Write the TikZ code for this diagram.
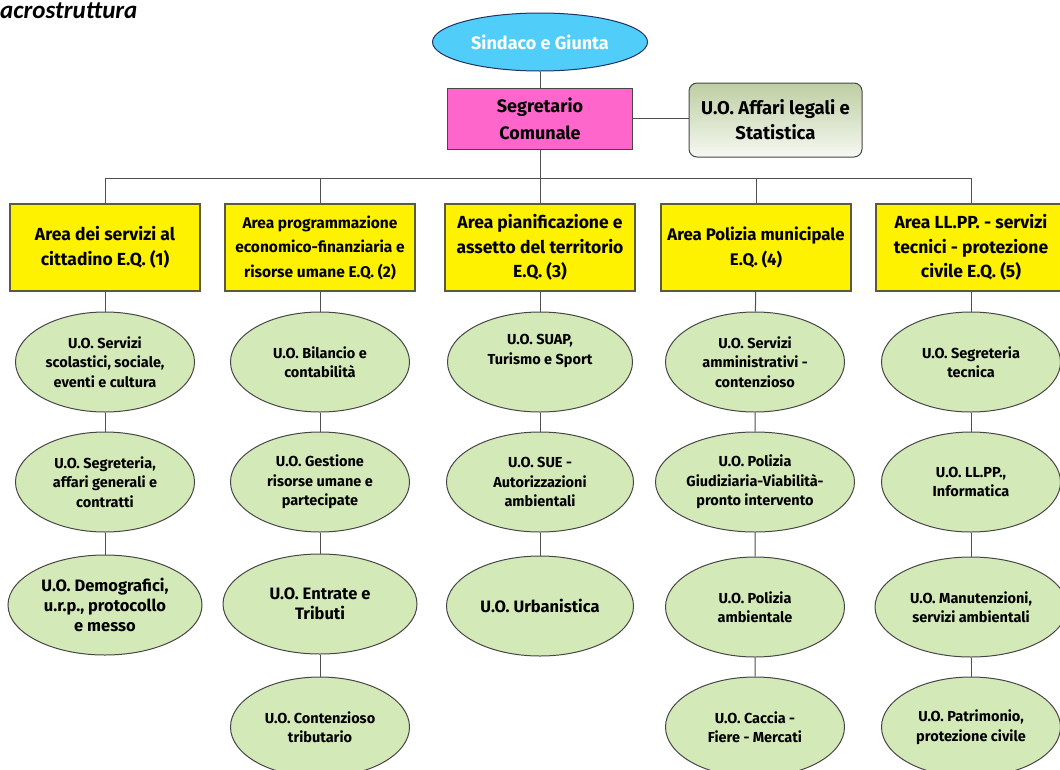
\documentclass[tikz,border=0pt]{standalone}
\usepackage{fontspec}
\setmainfont{Fira Sans}
\newfontfamily\titlefont{Carlito}
\usetikzlibrary{shapes.geometric}
\definecolor{uogreen}{RGB}{212,233,184}
\definecolor{uoborder}{RGB}{70,70,70}
\definecolor{areaborder}{RGB}{90,90,60}
\definecolor{linkgrey}{RGB}{80,80,80}
\definecolor{sindblue}{RGB}{80,205,248}
\definecolor{sindborder}{RGB}{30,50,100}
\definecolor{segrpink}{RGB}{255,102,204}
\definecolor{legtop}{RGB}{190,206,162}
\definecolor{legbot}{RGB}{246,248,242}
\newcommand{\clrarea}{yellow}
\newcommand{\bigfont}{\bfseries\fontsize{16.5}{20}\selectfont}

\begin{document}
\begin{tikzpicture}[x=1pt, y=-1pt,
    area/.style={draw=areaborder, line width=1.2pt, fill=\clrarea, minimum width=190pt, minimum height=87pt, inner sep=0pt, align=center},
    uo/.style={ellipse, draw=uoborder, line width=1pt, fill=uogreen, minimum width=179pt, minimum height=100pt, inner sep=0pt, align=center, font=\bfseries\fontsize{14.5}{19.5}\selectfont},
    link/.style={draw=linkgrey, line width=1pt}]
    \useasboundingbox (0,0) rectangle (1060,769);
    \clip (0,0) rectangle (1060,769);

    \node[anchor=base west, inner sep=0pt, font=\titlefont\bfseries\itshape\fontsize{25}{25}\selectfont] (title) at (0,18) {acrostruttura};

%top
    \node[ellipse, draw=sindborder, line width=1pt, fill=sindblue, minimum width=215pt, minimum height=58pt, inner sep=0pt, text=white, font=\bfseries\fontsize{18}{27}\selectfont] (sind) at (540,42) {Sindaco e Giunta};
    \node[draw=uoborder, line width=1pt, fill=segrpink, minimum width=185pt, minimum height=61pt, inner sep=0pt, align=center, font=\bfseries\fontsize{18}{27}\selectfont] (segr) at (540,118.5) {Segretario\\Comunale};
    \node[draw=uoborder, line width=1pt, rounded corners=8pt, top color=legtop, bottom color=legbot, minimum width=173pt, minimum height=74pt, inner sep=0pt, align=center, font=\bfseries\fontsize{18.5}{25}\selectfont] (legali) at (775.5,120) {U.O. Affari legali e\\Statistica};

    \draw[link] (sind) -- (segr);
    \draw[link] (segr.east) -- (segr.east -| legali.west);

%areas
    \foreach \i/\x/\fs/\txt in {1/105/17.5/{Area dei servizi al\\cittadino E.Q. (1)},
                                2/320/15.5/{Area programmazione\\economico-finanziaria e\\risorse umane E.Q. (2)},
                                3/540/17.5/{Area pianificazione e\\assetto del territorio\\E.Q. (3)},
                                4/756/16.8/{Area Polizia municipale\\E.Q. (4)},
                                5/971/17.5/{Area LL.PP. - servizi\\tecnici - protezione\\civile E.Q. (5)}} {
        \node[area, font=\bfseries\fontsize{\fs}{24.5}\selectfont] (area\i) at (\x,247.5) {\txt};
    }
    \coordinate (bus) at (540,178);
    \draw[link] (segr) -- (bus);
    \draw[link] (area1.north |- bus) -- (area5.north |- bus);
    \foreach \i in {1,...,5} {
        \draw[link] (area\i.north) -- (area\i.north |- bus);
    }

%col1
    \node[uo] (uo11) at (105,362) {U.O. Servizi\\scolastici, sociale,\\eventi e cultura};
    \node[uo] (uo12) at (105,482) {U.O. Segreteria,\\affari generali e\\contratti};
    \node[uo, minimum width=194pt, font=\bigfont] (uo13) at (105,605) {U.O. Demografici,\\u.r.p., protocollo\\e messo};
%col2
    \node[uo] (uo21) at (320,362) {U.O. Bilancio e\\contabilità};
    \node[uo] (uo22) at (320,482) {U.O. Gestione\\risorse umane e\\partecipate};
    \node[uo, minimum width=194pt, font=\bigfont] (uo23) at (320,604) {U.O. Entrate e\\Tributi};
    \node[uo] (uo24) at (320,727) {U.O. Contenzioso\\tributario};
%col3
    \node[uo, minimum width=185pt] (uo31) at (540,362) {U.O. SUAP,\\Turismo e Sport\\\strut};
    \node[uo, minimum width=187pt] (uo32) at (540,482) {U.O. SUE -\\Autorizzazioni\\ambientali};
    \node[uo, minimum width=187pt, font=\bigfont] (uo33) at (540,606) {U.O. Urbanistica};
%col4
    \node[uo] (uo41) at (755,362) {U.O. Servizi\\amministrativi -\\contenzioso};
    \node[uo, minimum width=199pt] (uo42) at (755,482) {U.O. Polizia\\Giudiziaria-Viabilità-\\pronto intervento};
    \node[uo] (uo43) at (755,607) {U.O. Polizia\\ambientale};
    \node[uo] (uo44) at (755,727) {U.O. Caccia -\\Fiere - Mercati};
%col5
    \node[uo] (uo51) at (971,362) {U.O. Segreteria\\tecnica};
    \node[uo] (uo52) at (971,482) {U.O. LL.PP.,\\Informatica};
    \node[uo, minimum width=192pt] (uo53) at (971,607) {U.O. Manutenzioni,\\servizi ambientali};
    \node[uo] (uo54) at (971,727) {U.O. Patrimonio,\\protezione civile};

    \draw[link] (area1) -- (uo11) (uo11) -- (uo12) (uo12) -- (uo13);
    \draw[link] (area2) -- (uo21) (uo21) -- (uo22) (uo22) -- (uo23) (uo23) -- (uo24);
    \draw[link] (area3) -- (uo31) (uo31) -- (uo32) (uo32) -- (uo33);
    \draw[link] (area4) -- (uo41) (uo41) -- (uo42) (uo42) -- (uo43) (uo43) -- (uo44);
    \draw[link] (area5) -- (uo51) (uo51) -- (uo52) (uo52) -- (uo53) (uo53) -- (uo54);
\end{tikzpicture}
\end{document}
